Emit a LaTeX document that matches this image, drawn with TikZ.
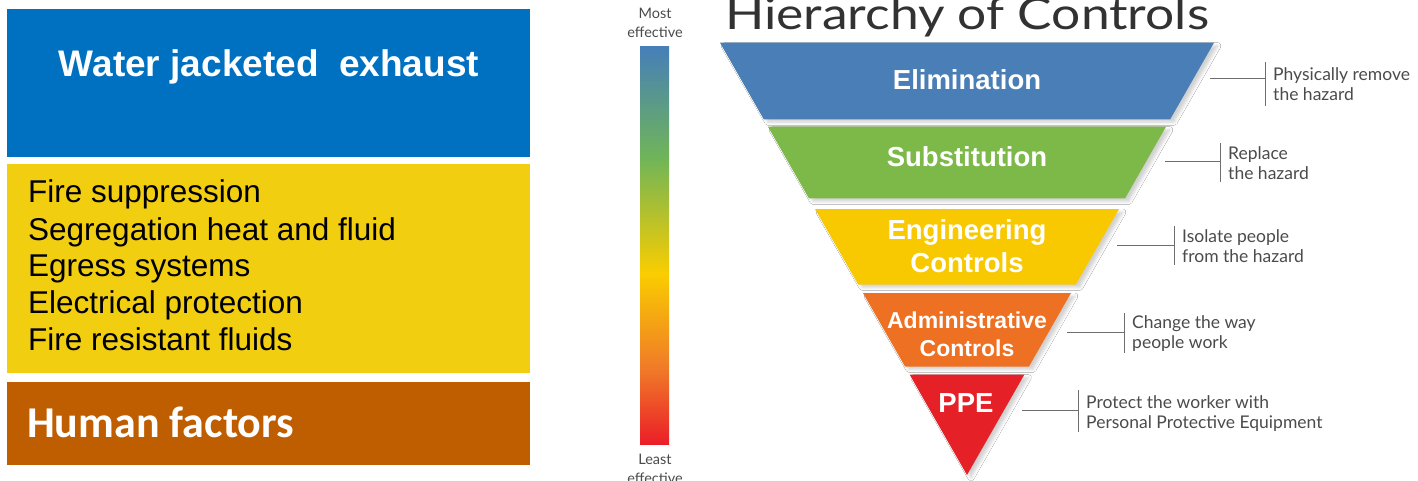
\documentclass[tikz,border=0pt]{standalone}
\usepackage{fontspec}
\setmainfont{Liberation Sans}
\newfontfamily\carlito{Carlito}
\newfontfamily\latofont{Lato}
\usetikzlibrary{calc,shadows.blur}

\definecolor{jacketBlue}{RGB}{0,112,192}
\definecolor{boxYellow}{RGB}{242,206,17}
\definecolor{boxBrown}{RGB}{191,94,0}
\definecolor{hocBlue}{RGB}{74,126,182}
\definecolor{hocGreen}{RGB}{124,185,72}
\definecolor{hocYellow}{RGB}{248,200,0}
\definecolor{hocOrange}{RGB}{237,112,35}
\definecolor{hocRed}{RGB}{230,32,39}
\definecolor{barBlue}{RGB}{70,127,184}
\definecolor{barGreen}{RGB}{112,181,88}
\definecolor{barYellow}{RGB}{250,205,0}
\definecolor{barOrange}{RGB}{240,122,40}
\definecolor{barRed}{RGB}{235,30,40}
\definecolor{annoGray}{RGB}{75,75,75}
\definecolor{lineGray}{RGB}{110,110,110}
\definecolor{titleGray}{RGB}{50,50,50}

\pgfdeclareverticalshading{hocbar}{100bp}{color(0bp)=(barRed); color(25bp)=(barRed); color(34.5bp)=(barOrange); color(46.5bp)=(barYellow); color(61bp)=(barGreen); color(75bp)=(barBlue); color(100bp)=(barBlue)}

\tikzset{
  tlabel/.style={text=white, inner sep=0, align=center, font=\bfseries\fontsize{27.5}{33}\selectfont},
  tlabelsmall/.style={text=white, inner sep=0, align=center, font=\bfseries\fontsize{23}{28}\selectfont},
  band/.style={blur shadow={shadow xshift=4pt, shadow yshift=-3pt, shadow blur radius=3pt, shadow opacity=18}},
  anno/.style={anchor=west, inner xsep=8pt, inner ysep=0, align=left, text=annoGray, font=\latofont\fontsize{17.5}{20}\selectfont},
  annoline/.style={draw=lineGray, line width=1pt},
  smalllbl/.style={inner sep=0, align=center, text=annoGray, font=\latofont\fontsize{14.5}{19}\selectfont},
  listline/.style={anchor=base west, inner sep=0, text=black, font=\fontsize{31.5}{36.7}\selectfont},
}

\begin{document}
\begin{tikzpicture}[x=1pt, y=-1pt]
\useasboundingbox (0,0) rectangle (1418,481);
\clip (0,0) rectangle (1418,481);
\fill[white] (0,0) rectangle (1418,481);

% ---- left panel ----
\fill[jacketBlue] (7,9) rectangle (530,157);
\node[anchor=base, inner sep=0, text=white, font=\bfseries\fontsize{37}{40}\selectfont] (wje) at (269,77) {Water jacketed\ \ exhaust};

\fill[boxYellow] (7,164) rectangle (530,373);
\node[listline] (l1) at (28,203) {Fire suppression};
\node[listline] (l2) at (28,240) {Segregation heat and fluid};
\node[listline] (l3) at (28,276) {Egress systems};
\node[listline] (l4) at (28,313) {Electrical protection};
\node[listline] (l5) at (28,350) {Fire resistant fluids};

\fill[boxBrown] (7,382) rectangle (530,465);
\node[anchor=base west, inner sep=0, text=white, font=\carlito\bfseries\fontsize{44}{48}\selectfont] (hf) at (27,437) {Human factors};

% ---- gradient bar ----
\shade[shading=hocbar] (640,47) rectangle (669,444);
\node[smalllbl] (most) at (655,22.5) {Most\\effective};
\node[smalllbl] (least) at (655,468.5) {Least\\effective};

% ---- title ----
\node[anchor=base west, inner sep=0, text=titleGray] (title) at (725,30) {\resizebox{484pt}{\height}{\latofont\fontsize{44}{44}\selectfont Hierarchy of Controls}};

% ---- pyramid ----
\fill[hocBlue, band] (720,42.7) -- (1214,42.7) -- (1170.2,119.3) -- (763.8,119.3) -- cycle;
\fill[hocGreen, band] (768,126.7) -- (1166,126.7) -- (1125,198.5) -- (809,198.5) -- cycle;
\fill[hocYellow, band] (815,209) -- (1119,209) -- (1075.8,284.5) -- (858.2,284.5) -- cycle;
\fill[hocOrange, band] (863,293) -- (1071,293) -- (1029,366.5) -- (905,366.5) -- cycle;
\fill[hocRed, band] (909.6,374.5) -- (1024.4,374.5) -- (967,475) -- cycle;

\node[tlabel] (elim) at (967,80) {Elimination};
\node[tlabel] (subst) at (967,157) {Substitution};
\node[tlabel] (eng) at (967,246.5) {Engineering\\Controls};
\node[tlabelsmall] (admin) at (967,334) {Administrative\\Controls};
\node[tlabel] (ppe) at (966,403) {PPE};

% ---- annotations ----
\node[anno] (a1) at (1265,84) {Physically remove\\the hazard};
\node[anno] (a2) at (1220,163) {Replace\\the hazard};
\node[anno] (a3) at (1174,246) {Isolate people\\from the hazard};
\node[anno] (a4) at (1124,333.5) {Change the way\\people work};
\node[anno] (a5) at (1078,413.5) {Protect the worker with\\Personal Protective Equipment};

\coordinate (c1) at (1210,79);
\coordinate (c2) at (1165,162);
\coordinate (c3) at (1117,245);
\coordinate (c4) at (1067,332.5);
\coordinate (c5) at (1022,410);

\draw[annoline] (c1) -- (c1 -| a1.west);
\draw[annoline] (1265,62) -- (1265,106);
\draw[annoline] (c2) -- (c2 -| a2.west);
\draw[annoline] (1220,143) -- (1220,182);
\draw[annoline] (c3) -- (c3 -| a3.west);
\draw[annoline] (1174,226) -- (1174,265);
\draw[annoline] (c4) -- (c4 -| a4.west);
\draw[annoline] (1124,313) -- (1124,353);
\draw[annoline] (c5) -- (c5 -| a5.west);
\draw[annoline] (1078,390) -- (1078,432);
\end{tikzpicture}
\end{document}
